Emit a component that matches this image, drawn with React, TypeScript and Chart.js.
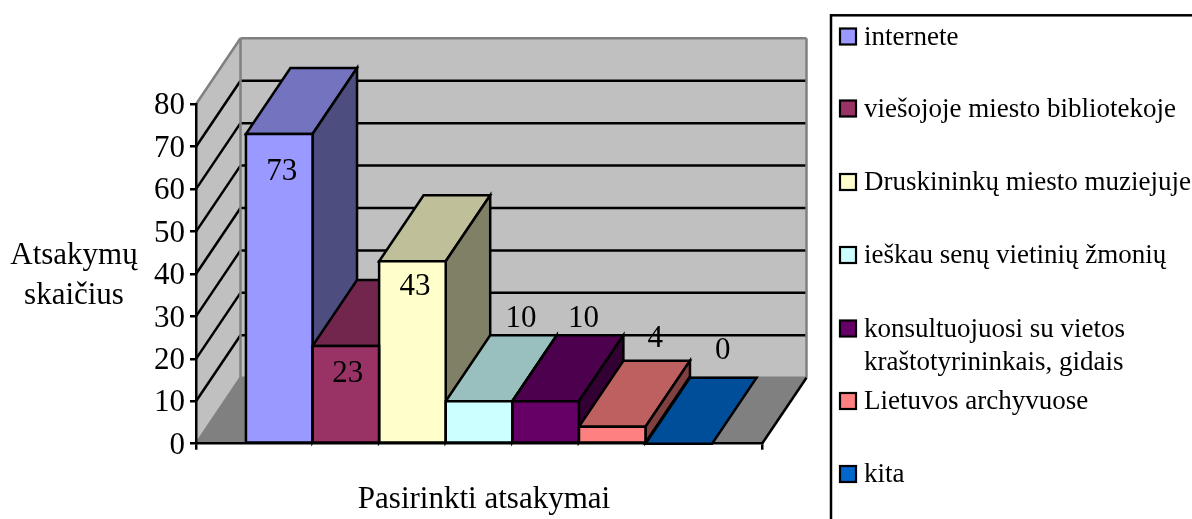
import React, { useEffect, useRef } from "react";
import { Chart, registerables } from "chart.js";

Chart.register(...registerables);

const categories = ["Pasirinkti atsakymai"];
const seriesNames = [
  ["internete"],
  ["viešojoje miesto bibliotekoje"],
  ["Druskininkų miesto muziejuje"],
  ["ieškau senų vietinių žmonių"],
  ["konsultuojuosi su vietos", "kraštotyrininkais, gidais"],
  ["Lietuvos archyvuose"],
  ["kita"],
];
const seriesValues = [73, 23, 43, 10, 10, 4, 0];
const frontColors = ["#9999FF", "#993366", "#FFFFCC", "#CCFFFF", "#660066", "#FF8080", "#0066CC"];
const yTitleLines = ["Atsakymų", "skaičius"];
const xTitle = "Pasirinkti atsakymai";

// styling: label nudges relative to the front-top centre of each bar
const labelNudgeX = [2.5, 2, 2.5, 42, 38, 43, 44];
const labelNudgeY = [38, 28, 26, -82, -82, -88, -93];

const FONT = '"Liberation Serif"';
const TICK = 31;
const VAL = 31;
const TITLE = 31;
const LEG = 27;
const DX = 44.5;
const DY = -66;
const LW = 2.5;

function shade(hex: string, f: number) {
  const n = parseInt(hex.slice(1), 16);
  const c = [(n >> 16) & 255, (n >> 8) & 255, n & 255].map((v) => Math.round(v * f));
  return `rgb(${c[0]},${c[1]},${c[2]})`;
}

function poly(ctx: any, pts: number[][], fill: string | null, stroke: string | null, lw = LW) {
  ctx.beginPath();
  pts.forEach((p, i) => (i ? ctx.lineTo(p[0], p[1]) : ctx.moveTo(p[0], p[1])));
  ctx.closePath();
  if (fill) {
    ctx.fillStyle = fill;
    ctx.fill();
  }
  if (stroke) {
    ctx.strokeStyle = stroke;
    ctx.lineWidth = lw;
    ctx.lineJoin = "miter";
    ctx.stroke();
  }
}

function seg(ctx: any, x1: number, y1: number, x2: number, y2: number, color: string, lw = LW) {
  ctx.beginPath();
  ctx.moveTo(x1, y1);
  ctx.lineTo(x2, y2);
  ctx.strokeStyle = color;
  ctx.lineWidth = lw;
  ctx.stroke();
}

const box3d = {
  id: "box3d",
  beforeDraw(chart: any) {
    const { ctx, chartArea: a, scales } = chart;
    const y = scales.y;
    const b = a.bottom;
    const t = a.top;
    const L = a.left;
    const R = a.right;
    ctx.save();
    // back wall and side wall
    poly(ctx, [[L + DX, t + DY], [R + DX, t + DY], [R + DX, b + DY], [L + DX, b + DY]], "#C0C0C0", null);
    poly(ctx, [[L, t], [L + DX, t + DY], [L + DX, b + DY], [L, b]], "#C0C0C0", null);
    // floor
    poly(ctx, [[L, b], [R, b], [R + DX, b + DY], [L + DX, b + DY]], "#808080", null);
    // grid
    y.ticks.forEach((tk: any) => {
      if (tk.value === 0 || tk.value === y.max) return;
      const p = y.getPixelForValue(tk.value);
      seg(ctx, L, p, L + DX, p + DY, "#000");
      seg(ctx, L + DX, p + DY, R + DX, p + DY, "#000");
    });
    // wall outline
    seg(ctx, L, t, L + DX, t + DY, "#808080");
    seg(ctx, L + DX, t + DY, R + DX, t + DY, "#808080");
    seg(ctx, R + DX, t + DY, R + DX, b + DY, "#808080");
    seg(ctx, L + DX, t + DY, L + DX, b + DY, "#808080");
    seg(ctx, L + DX, b + DY, R + DX, b + DY, "#808080");
    seg(ctx, L, b, L + DX, b + DY, "#808080");
    seg(ctx, R, b, R + DX, b + DY, "#000");
    ctx.restore();
  },
  beforeDatasetsDraw(chart: any) {
    const { ctx } = chart;
    ctx.save();
    chart.data.datasets.forEach((ds: any, i: number) => {
      const el = chart.getDatasetMeta(i).data[0];
      const l = el.x - el.width / 2;
      const r = el.x + el.width / 2;
      const top = el.y;
      const base = el.base;
      poly(ctx, [[l, top], [r, top], [r + DX, top + DY], [l + DX, top + DY]], shade(ds.backgroundColor, 0.75), "#000");
      if (base > top) {
        poly(ctx, [[r, top], [r + DX, top + DY], [r + DX, base + DY], [r, base]], shade(ds.backgroundColor, 0.5), "#000");
      }
    });
    ctx.restore();
  },
  afterDatasetsDraw(chart: any) {
    const { ctx } = chart;
    ctx.save();
    chart.data.datasets.forEach((ds: any, i: number) => {
      const el = chart.getDatasetMeta(i).data[0];
      const l = el.x - el.width / 2;
      const r = el.x + el.width / 2;
      if (el.base > el.y) {
        poly(ctx, [[l, el.y], [r, el.y], [r, el.base], [l, el.base]], null, "#000");
      }
    });
    // value labels
    ctx.fillStyle = "#000";
    ctx.font = `${VAL}px ${FONT}`;
    ctx.textAlign = "center";
    ctx.textBaseline = "middle";
    chart.data.datasets.forEach((ds: any, i: number) => {
      const el = chart.getDatasetMeta(i).data[0];
      ctx.fillText(String(ds.data[0]), el.x + labelNudgeX[i], el.y + labelNudgeY[i]);
    });
    ctx.restore();
  },
  afterDraw(chart: any) {
    const { ctx } = chart;
    ctx.save();
    // axis titles
    ctx.fillStyle = "#000";
    ctx.font = `${TITLE}px ${FONT}`;
    ctx.textAlign = "center";
    ctx.textBaseline = "middle";
    yTitleLines.forEach((s, i) => ctx.fillText(s, 74, 256 + i * 40));
    ctx.fillText(xTitle, 484, 500);
    // legend frame (runs off the page on the right and bottom)
    ctx.strokeStyle = "#000";
    ctx.lineWidth = 2.5;
    ctx.strokeRect(831, 15.3, 400, 560);
    const rowY = [36.5, 108.5, 182, 255, 328.5, 401, 474];
    chart.data.datasets.forEach((ds: any, i: number) => {
      const cy = rowY[i];
      ctx.fillStyle = ds.backgroundColor;
      ctx.fillRect(840, cy - 8, 16, 16);
      ctx.strokeStyle = "#000";
      ctx.lineWidth = 2.2;
      ctx.strokeRect(840, cy - 8, 16, 16);
      ctx.fillStyle = "#000";
      ctx.font = `${LEG}px ${FONT}`;
      ctx.textAlign = "left";
      ctx.textBaseline = "middle";
      seriesNames[i].forEach((s, j) => ctx.fillText(s, 864, cy + 1 + j * 33));
    });
    ctx.restore();
  },
};

export default function App() {
  const ref = useRef<HTMLCanvasElement>(null);
  useEffect(() => {
    const chart = new Chart(ref.current as HTMLCanvasElement, {
      type: "bar",
      data: {
        labels: categories,
        datasets: seriesValues.map((v, i) => ({
          label: seriesNames[i].join(" "),
          data: [v],
          backgroundColor: frontColors[i],
          borderWidth: 0,
          barPercentage: 1,
          categoryPercentage: 7 / 8.5,
        })),
      },
      options: {
        animation: false,
        responsive: false,
        layout: { padding: { left: 0, top: 104.3, right: 430, bottom: 75.3 } },
        plugins: { legend: { display: false }, tooltip: { enabled: false }, title: { display: false } },
        scales: {
          x: {
            ticks: { display: false },
            grid: { display: true, drawOnChartArea: false, drawTicks: true, tickLength: 6, color: "#000", lineWidth: LW },
            border: { display: true, color: "#000", width: LW },
            afterFit: (s: any) => {
              s.height = 0;
            },
          },
          y: {
            min: 0,
            max: 80,
            ticks: { stepSize: 10, color: "#000", font: { family: "Liberation Serif", size: TICK }, padding: 5, labelOffset: 2, autoSkip: false },
            grid: { display: true, drawOnChartArea: false, drawTicks: true, tickLength: 6, color: "#000", lineWidth: LW },
            border: { display: true, color: "#000", width: LW },
            afterFit: (s: any) => {
              s.width = 196;
            },
          },
        },
      },
      plugins: [box3d],
    } as any);
    return () => chart.destroy();
  }, []);
  return (
    <canvas
      ref={ref}
      width={1192}
      height={519}
      style={{ position: "absolute", left: 0, top: 0, width: 1192, height: 519, display: "block" }}
    />
  );
}
